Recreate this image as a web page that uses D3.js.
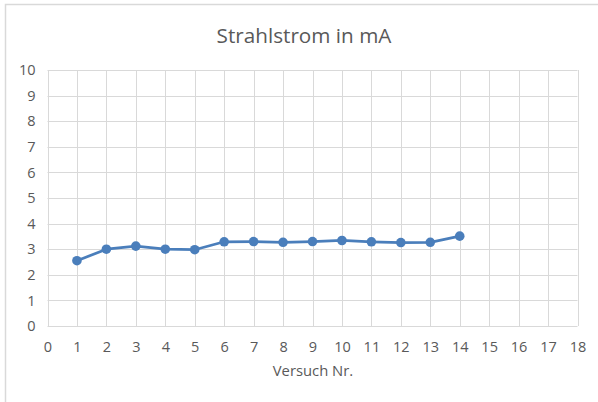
<!DOCTYPE html>
<html>
<head>
<meta charset="utf-8">
<script src="https://cdn.jsdelivr.net/npm/d3@7"></script>
<style>
  html, body { margin: 0; padding: 0; background: #fff; }
  svg { display: block; }
  text { font-family: "Open Sans", "Noto Sans", sans-serif; fill: #595959; }
</style>
</head>
<body>
<svg id="chart" width="598" height="402"></svg>
<script>
// Beam current per trial (mA)
const versuch = [1, 2, 3, 4, 5, 6, 7, 8, 9, 10, 11, 12, 13, 14];
const strahlstrom = [2.55, 3.0, 3.12, 3.0, 2.98, 3.29, 3.3, 3.27, 3.3, 3.34, 3.29, 3.26, 3.27, 3.51];
const xTicks = d3.range(0, 19);
const yTicks = d3.range(0, 11);
const titleText = "Strahlstrom in mA";
const xAxisTitle = "Versuch Nr.";

const W = 598, H = 402;
const margin = { left: 47.5, right: 598 - 577.5, top: 70, bottom: 402 - 326 };

const svg = d3.select("#chart");

// chart frame
svg.append("rect")
  .attr("x", 5.5).attr("y", 4.5)
  .attr("width", W + 10).attr("height", H + 10)
  .attr("fill", "#fff").attr("stroke", "#d9d9d9").attr("stroke-width", 1.5);

const x = d3.scaleLinear().domain([0, 18]).range([margin.left, W - margin.right]);
const y = d3.scaleLinear().domain([0, 10]).range([H - margin.bottom, margin.top]);

// gridlines
const grid = svg.append("g");
grid.selectAll("line.v").data(xTicks).join("line")
  .attr("class", "v")
  .attr("x1", d => Math.round(x(d)) + 0.5).attr("x2", d => Math.round(x(d)) + 0.5)
  .attr("y1", y(10)).attr("y2", y(0))
  .attr("stroke", "#d9d9d9").attr("stroke-width", 1);
grid.selectAll("line.h").data(yTicks).join("line")
  .attr("class", "h")
  .attr("x1", x(0)).attr("x2", x(18))
  .attr("y1", d => Math.round(y(d)) + 0.5).attr("y2", d => Math.round(y(d)) + 0.5)
  .attr("stroke", "#d9d9d9").attr("stroke-width", 1);

// axes (labels only; lines come from the grid)
const xAxis = svg.append("g")
  .attr("transform", `translate(0,352)`)
  .call(d3.axisBottom(x).tickValues(xTicks).tickSize(0).tickPadding(0));
xAxis.select(".domain").remove();
xAxis.selectAll("text").attr("font-size", 14.5).attr("y", 0).attr("dy", null).style("font-family", null);

const yAxis = svg.append("g")
  .attr("transform", `translate(${x(0) - 12},0)`)
  .call(d3.axisLeft(y).tickValues(yTicks).tickSize(0).tickPadding(0));
yAxis.select(".domain").remove();
yAxis.selectAll("text").attr("font-size", 14.5).style("font-family", null);

svg.selectAll(".tick text").attr("fill", "#595959");

// title
svg.append("text")
  .attr("x", 304).attr("y", 43)
  .attr("text-anchor", "middle")
  .attr("font-size", 20.7)
  .text(titleText);

// x-axis title
svg.append("text")
  .attr("x", 313).attr("y", 376)
  .attr("text-anchor", "middle")
  .attr("font-size", 14.8)
  .text(xAxisTitle);

// series line
const line = d3.line().x((d, i) => x(versuch[i])).y(d => y(d));
svg.append("path")
  .datum(strahlstrom)
  .attr("d", line)
  .attr("fill", "none")
  .attr("stroke", "#4a7ebb")
  .attr("stroke-width", 2.75)
  .attr("stroke-linejoin", "round");

svg.selectAll("circle.pt").data(strahlstrom).join("circle")
  .attr("class", "pt")
  .attr("cx", (d, i) => x(versuch[i]))
  .attr("cy", d => y(d))
  .attr("r", 4.8)
  .attr("fill", "#4a7ebb");
</script>
</body>
</html>
